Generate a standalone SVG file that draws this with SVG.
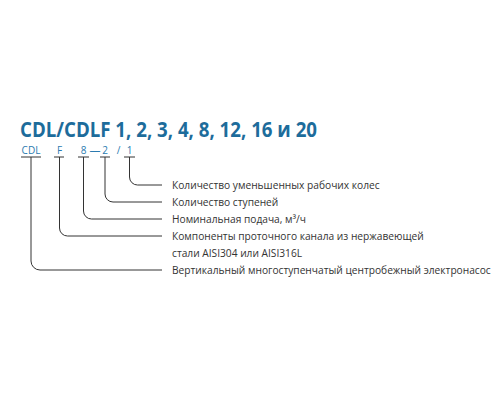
<svg xmlns="http://www.w3.org/2000/svg" width="500" height="400" viewBox="0 0 500 400">
<style>
.title{font-family:"Open Sans","Liberation Sans",sans-serif;font-weight:bold;font-size:21px;fill:#1d6c9b}
.code{font-family:"Open Sans","Liberation Sans",sans-serif;font-size:10px;fill:#2b7bb0}
.lbl{font-family:"Open Sans","Liberation Sans",sans-serif;font-size:10.2px;fill:#333}
.ln{fill:none;stroke:#333;stroke-width:1}
</style>
<rect width="500" height="400" fill="#fff"/>
<g id="title"><text class="title" x="20" y="137" textLength="297" lengthAdjust="spacingAndGlyphs">CDL/CDLF 1, 2, 3, 4, 8, 12, 16 и 20</text></g>
<g id="code">
<text class="code" x="31" y="154" text-anchor="middle">CDL</text>
<text class="code" x="59.5" y="154" text-anchor="middle">F</text>
<text class="code" x="83.5" y="154" text-anchor="middle">8</text>
<text class="code" x="89.5" y="154" textLength="11" lengthAdjust="spacingAndGlyphs">—</text>
<text class="code" x="105" y="154" text-anchor="middle">2</text>
<text class="code" x="118.5" y="154" text-anchor="middle">/</text>
<text class="code" x="129.5" y="154" text-anchor="middle">1</text>
</g>
<g id="connectors">
<path class="ln" d="M21 157H41M54 157H64M78 157H89M100 157H110M124 157H135"/>
<path class="ln" d="M129.5 157V177A8 8 0 0 0 137.5 185H162"/>
<path class="ln" d="M105 157V194A8 8 0 0 0 113 202H162"/>
<path class="ln" d="M83.5 157V211A8 8 0 0 0 91.5 219H162"/>
<path class="ln" d="M59.5 157V228A8 8 0 0 0 67.5 236H162"/>
<path class="ln" d="M31 157V261A9 9 0 0 0 40 270H162"/>
</g>
<g id="label-1"><text class="lbl" x="172" y="188.5">Количество уменьшенных рабочих колес</text></g>
<g id="label-2"><text class="lbl" x="172" y="205.5">Количество ступеней</text></g>
<g id="label-3"><text class="lbl" x="172" y="222.5">Номинальная подача, м³/ч</text></g>
<g id="label-4"><text class="lbl" x="172" y="239.5">Компоненты проточного канала из нержавеющей</text><text class="lbl" x="172" y="256.5">стали AISI304 или AISI316L</text></g>
<g id="label-5"><text class="lbl" x="172" y="273.5">Вертикальный многоступенчатый центробежный электронасос</text></g>
</svg>
